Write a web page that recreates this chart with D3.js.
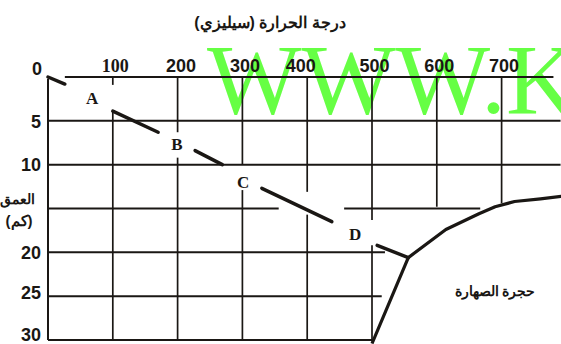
<!DOCTYPE html>
<html>
<head>
<meta charset="utf-8">
<script src="https://cdn.jsdelivr.net/npm/d3@7"></script>
<style>
html,body{margin:0;padding:0;background:#fff;}
svg{display:block;}
</style>
</head>
<body>
<svg id="c" width="561" height="344"></svg>
<script>
// ---- data ----
const xTicks = [100, 200, 300, 400, 500, 600, 700];
const yTicks = [0, 5, 10, 20, 25, 30];
const titleX = "درجة الحرارة (سيليزي)";
const titleY1 = "العمق";
const titleY2 = "(كم)";
const magmaLabel = "حجرة الصهارة";
const watermark = "WWW.K";

// grid line spans (temperature / depth ranges)
const hDepths = [0, 5, 10, 15, 20, 25, 30];
const hSpans = [[[26, 780]], [[0, 791]], [[0, 791]], [[0, 356], [457, 667]], [[0, 520]], [[0, 515]], [[0, 500]]];
const vTemps = [0, 100, 200, 300, 400, 500, 600, 700];
const vSpans = [[[0.2, 30]], [[0, 0.9], [3.8, 30]], [[0, 6.3], [9.2, 30]], [[0, 10], [12.9, 30]], [[0, 13.1], [15.7, 30]], [[0, 16.3], [19.2, 30]], [[0, 14.8]], [[0, 14.4]]];

// geotherm pieces (temperature, depth)
const geoTemps = [[0, 26], [100, 170], [227, 269], [330, 438], [508, 556]];
const geoDepths = [[0, 0.8], [3.9, 6.3], [8.4, 10.0], [12.7, 16.5], [19.2, 20.6]];

// solidus curve
const solTemps = [500, 556, 614, 665, 690, 720, 760, 795];
const solDepths = [30.4, 20.6, 17.4, 15.6, 14.8, 14.2, 13.9, 13.6];

// point labels
const ptNames = ["A", "B", "C", "D"];
const ptTemps = [68, 199, 301, 474];
const ptDepths = [2.4, 7.75, 12.0, 18.0];

// ---- drawing ----
const svg = d3.select("#c");
const x = d3.scaleLinear().domain([0, 700]).range([48, 501.6]);
const y = d3.scaleLinear().domain([0, 30]).range([77, 340]);
const ink = "#1a1714";

// watermark (underneath)
svg.append("text")
  .attr("x", 207).attr("y", 113)
  .attr("font-family", "Liberation Serif, Times New Roman, serif")
  .attr("font-size", 100)
  .attr("fill", "#66ff44")
  .text(watermark);

// grid
const g = svg.append("g");
hDepths.forEach((d, i) => {
  hSpans[i].forEach(s => {
    g.append("line")
      .attr("x1", x(s[0])).attr("x2", x(s[1]))
      .attr("y1", y(d)).attr("y2", y(d))
      .attr("stroke", ink).attr("stroke-width", 2);
  });
});
vTemps.forEach((t, i) => {
  vSpans[i].forEach(s => {
    g.append("line")
      .attr("x1", x(t)).attr("x2", x(t))
      .attr("y1", y(s[0])).attr("y2", y(s[1]))
      .attr("stroke", ink).attr("stroke-width", t === 0 ? 2 : 1.7);
  });
});

// axes labels via d3 axes
const xAxis = svg.append("g")
  .attr("transform", `translate(0,${y(0) - 5})`)
  .call(d3.axisTop(x).tickValues(xTicks).tickSize(0).tickPadding(0));
xAxis.select(".domain").remove();
xAxis.selectAll("text")
  .attr("font-family", d => d === 100 ? "Liberation Serif, serif" : "Liberation Sans, Arial, sans-serif")
  .attr("font-weight", "bold")
  .attr("font-size", 18)
  .attr("fill", ink)
  .attr("dx", d => d === 400 ? -7 : (d === 200 ? 3 : 2))
  .attr("dy", 0);

const yAxis = svg.append("g")
  .attr("transform", `translate(41,0)`)
  .call(d3.axisLeft(y).tickValues(yTicks).tickSize(0).tickPadding(0));
yAxis.select(".domain").remove();
yAxis.selectAll("text")
  .attr("font-family", "Liberation Sans, Arial, sans-serif")
  .attr("font-weight", "bold")
  .attr("font-size", 18)
  .attr("fill", ink)
  .attr("dy", d => d === 0 ? "-0.15em" : (d === 30 ? "0.0em" : (d === 25 ? "0.12em" : "0.35em")))
  .attr("x", d => d === 0 ? 1 : 0);

// titles
svg.append("text")
  .attr("x", 270).attr("y", 28)
  .attr("text-anchor", "middle")
  .attr("font-family", "Liberation Sans, Arial, sans-serif")
  .attr("font-weight", "bold").attr("font-size", 16)
  .attr("fill", ink)
  .text(titleX);
svg.append("text")
  .attr("x", 17).attr("y", 204)
  .attr("text-anchor", "middle")
  .attr("font-family", "Liberation Sans, Arial, sans-serif")
  .attr("font-weight", "bold").attr("font-size", 14)
  .attr("fill", ink)
  .text(titleY1);
svg.append("text")
  .attr("x", 19).attr("y", 226)
  .attr("text-anchor", "middle")
  .attr("font-family", "Liberation Sans, Arial, sans-serif")
  .attr("font-weight", "bold").attr("font-size", 15)
  .attr("fill", ink)
  .text(titleY2);
svg.append("text")
  .attr("x", 495).attr("y", 296)
  .attr("text-anchor", "middle")
  .attr("font-family", "Liberation Sans, Arial, sans-serif")
  .attr("font-weight", "bold").attr("font-size", 14)
  .attr("fill", ink)
  .text(magmaLabel);

// geotherm
geoTemps.forEach((t, i) => {
  svg.append("line")
    .attr("x1", x(t[0])).attr("y1", y(geoDepths[i][0]))
    .attr("x2", x(t[1])).attr("y2", y(geoDepths[i][1]))
    .attr("stroke", ink).attr("stroke-width", 3.5)
    .attr("stroke-linecap", "round");
});

// solidus
const solPts = solTemps.map((t, i) => [t, solDepths[i]]);
svg.append("path")
  .attr("d", d3.line().x(d => x(d[0])).y(d => y(d[1])).curve(d3.curveLinear)(solPts))
  .attr("fill", "none").attr("stroke", ink).attr("stroke-width", 3.2)
  .attr("stroke-linejoin", "round");

// point labels
ptNames.forEach((n, i) => {
  svg.append("text")
    .attr("x", x(ptTemps[i])).attr("y", y(ptDepths[i]))
    .attr("text-anchor", "middle").attr("dominant-baseline", "central")
    .attr("font-family", "Liberation Serif, Times New Roman, serif")
    .attr("font-weight", "bold").attr("font-size", 17)
    .attr("fill", ink)
    .text(n);
});
</script>
</body>
</html>
